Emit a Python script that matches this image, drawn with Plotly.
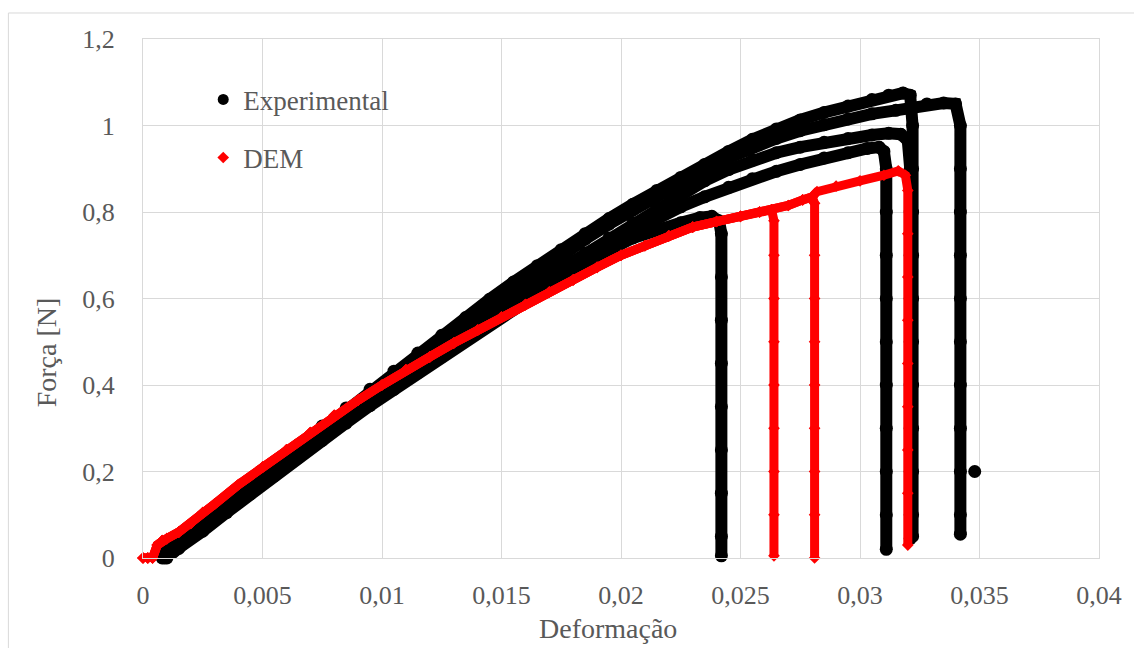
import plotly.graph_objects as go

# ---- axis ticks -------------------------------------------------------------
X_TICKS = [0, 0.005, 0.01, 0.015, 0.02, 0.025, 0.03, 0.035, 0.04]
X_TICK_LABELS = ["0", "0,005", "0,01", "0,015", "0,02", "0,025", "0,03", "0,035", "0,04"]
Y_TICKS = [0, 0.2, 0.4, 0.6, 0.8, 1.0, 1.2]
Y_TICK_LABELS = ["0", "0,2", "0,4", "0,6", "0,8", "1", "1,2"]

# ---- experimental specimens (strain, force [N]) ------------------------------
EXP_A_X = [0.0008, 0.0015, 0.0025, 0.0035, 0.0045, 0.0055, 0.0065, 0.0075, 0.0085,
           0.0095, 0.0105, 0.0115, 0.0125, 0.0135, 0.0145, 0.0155, 0.0165, 0.0175,
           0.0185, 0.0195, 0.0205, 0.0215, 0.0225, 0.0235, 0.0245, 0.0255, 0.0265,
           0.0275, 0.0285, 0.0295, 0.0305, 0.0312, 0.0318, 0.0321,
           0.0322, 0.0322, 0.0322, 0.0322, 0.0322, 0.0322, 0.0322, 0.0322, 0.0322,
           0.0322, 0.0322]
EXP_A_Y = [0.01, 0.04, 0.085, 0.13, 0.175, 0.22, 0.262, 0.305, 0.347,
           0.39, 0.432, 0.474, 0.515, 0.556, 0.598, 0.638, 0.676, 0.713,
           0.75, 0.785, 0.818, 0.85, 0.88, 0.91, 0.94, 0.968, 0.992,
           1.013, 1.03, 1.045, 1.06, 1.07, 1.075, 1.07,
           1.0, 0.9, 0.8, 0.7, 0.6, 0.5, 0.4, 0.3, 0.2, 0.1, 0.05]

EXP_B_X = [0.0009, 0.0015, 0.0025, 0.0035, 0.0045, 0.0055, 0.0065, 0.0075, 0.0085,
           0.0095, 0.0105, 0.0115, 0.0125, 0.0135, 0.0145, 0.0155, 0.0165, 0.0175,
           0.0185, 0.0195, 0.0205, 0.0215, 0.0225, 0.0235, 0.0245, 0.0255, 0.0265,
           0.0275, 0.0285, 0.0295, 0.0305, 0.0315, 0.0322, 0.0328, 0.0335, 0.0340,
           0.0342, 0.0342, 0.0342, 0.0342, 0.0342, 0.0342, 0.0342, 0.0342, 0.0342,
           0.0342, 0.0342, None, 0.0348]
EXP_B_Y = [0.005, 0.03, 0.075, 0.12, 0.165, 0.21, 0.253, 0.295, 0.338,
           0.38, 0.42, 0.462, 0.503, 0.545, 0.585, 0.625, 0.664, 0.70,
           0.737, 0.772, 0.805, 0.837, 0.868, 0.898, 0.925, 0.95, 0.97,
           0.988, 1.002, 1.015, 1.027, 1.035, 1.04, 1.05, 1.052, 1.05,
           1.0, 0.9, 0.8, 0.7, 0.6, 0.5, 0.4, 0.3, 0.2,
           0.1, 0.055, None, 0.2]

EXP_C_X = [0.0010, 0.0015, 0.0025, 0.0035, 0.0045, 0.0055, 0.0065, 0.0075, 0.0085,
           0.0095, 0.0105, 0.0115, 0.0125, 0.0135, 0.0145, 0.0155, 0.0165, 0.0175,
           0.0185, 0.0195, 0.0205, 0.0215, 0.0225, 0.0235, 0.0245, 0.0255, 0.0265,
           0.0275, 0.0285, 0.0295, 0.0305, 0.0312, 0.0317, 0.0320,
           0.0321, 0.0321, 0.0321, 0.0321, 0.0321, 0.0321, 0.0321, 0.0321, 0.0321,
           0.0321]
EXP_C_Y = [0.0, 0.025, 0.07, 0.112, 0.155, 0.198, 0.24, 0.283, 0.325,
           0.365, 0.405, 0.445, 0.485, 0.523, 0.56, 0.598, 0.635, 0.67,
           0.705, 0.74, 0.775, 0.81, 0.842, 0.872, 0.898, 0.92, 0.937,
           0.95, 0.961, 0.97, 0.978, 0.982, 0.98, 0.965,
           0.9, 0.8, 0.7, 0.6, 0.5, 0.4, 0.3, 0.2, 0.1,
           0.045]

EXP_D_X = [0.0008, 0.0015, 0.0025, 0.0035, 0.0045, 0.0055, 0.0065, 0.0075, 0.0085,
           0.0095, 0.0105, 0.0115, 0.0125, 0.0135, 0.0145, 0.0155, 0.0165, 0.0175,
           0.0185, 0.0195, 0.0205, 0.0215, 0.0225, 0.0235, 0.0245, 0.0255, 0.0265,
           0.0275, 0.0285, 0.0295, 0.0303, 0.0308, 0.0310,
           0.0311, 0.0311, 0.0311, 0.0311, 0.0311, 0.0311, 0.0311, 0.0311, 0.0311,
           0.0311]
EXP_D_Y = [0.0, 0.028, 0.068, 0.11, 0.152, 0.195, 0.237, 0.278, 0.318,
           0.358, 0.398, 0.436, 0.475, 0.512, 0.55, 0.587, 0.622, 0.655,
           0.69, 0.73, 0.755, 0.785, 0.812, 0.835, 0.857, 0.877, 0.894,
           0.91, 0.925, 0.937, 0.947, 0.95, 0.94,
           0.9, 0.8, 0.7, 0.6, 0.5, 0.4, 0.3, 0.2, 0.1,
           0.02]

EXP_E_X = [0.0009, 0.0015, 0.0025, 0.0035, 0.0045, 0.0055, 0.0065, 0.0075, 0.0085,
           0.0095, 0.0105, 0.0115, 0.0125, 0.0135, 0.0145, 0.0155, 0.0165, 0.0175,
           0.0185, 0.0195, 0.0205, 0.0215, 0.0225, 0.0233, 0.0238, 0.0241,
           0.0242, 0.0242, 0.0242, 0.0242, 0.0242, 0.0242, 0.0242, 0.0242, 0.0242]
EXP_E_Y = [0.0, 0.022, 0.062, 0.105, 0.148, 0.19, 0.232, 0.272, 0.312,
           0.352, 0.39, 0.428, 0.465, 0.503, 0.54, 0.575, 0.61, 0.645,
           0.68, 0.712, 0.74, 0.76, 0.775, 0.787, 0.79, 0.78,
           0.75, 0.65, 0.55, 0.45, 0.35, 0.25, 0.15, 0.05, 0.005]

# ---- DEM simulations: common loading path and failure drops -----------------
DEM_X = [0.0, 0.0002, 0.0004, 0.0006, 0.0008, 0.0010, 0.0015, 0.0020, 0.0025,
         0.0030, 0.0040, 0.0050, 0.0060, 0.0070, 0.0080, 0.0090, 0.0100, 0.0110,
         0.0120, 0.0130, 0.0140, 0.0150, 0.0160, 0.0170, 0.0180, 0.0190, 0.0200,
         0.0210, 0.0220, 0.0230, 0.0240, 0.0250, 0.0258, 0.0263, 0.0270, 0.0276,
         0.0280, 0.0282, 0.0290, 0.0300, 0.0310, 0.0316, 0.0319]
DEM_Y = [0.0, 0.0, 0.0, 0.03, 0.04, 0.045, 0.06, 0.08, 0.105,
         0.125, 0.17, 0.21, 0.25, 0.29, 0.33, 0.365, 0.40, 0.435,
         0.465, 0.497, 0.527, 0.557, 0.586, 0.615, 0.643, 0.672, 0.70,
         0.722, 0.745, 0.765, 0.778, 0.79, 0.80, 0.805, 0.815, 0.828,
         0.835, 0.847, 0.86, 0.872, 0.885, 0.895, 0.885]

DEM_FAIL_STRAIN = [0.0264, 0.0281, 0.0320]
DEM_DROP_Y = [
    [0.78, 0.7, 0.6, 0.5, 0.4, 0.3, 0.2, 0.1, 0.005],
    [0.82, 0.7, 0.6, 0.5, 0.4, 0.3, 0.2, 0.1, 0.0],
    [0.85, 0.75, 0.65, 0.55, 0.45, 0.35, 0.25, 0.15, 0.03],
]

TEXT = "#595959"
GRID = "#d9d9d9"
BLACK = "#000000"
RED = "#ff0000"

fig = go.Figure()

exp_series = [(EXP_A_X, EXP_A_Y), (EXP_B_X, EXP_B_Y), (EXP_C_X, EXP_C_Y),
              (EXP_D_X, EXP_D_Y), (EXP_E_X, EXP_E_Y)]
for xs, ys in exp_series:
    fig.add_trace(go.Scatter(
        x=xs, y=ys, mode="lines+markers", showlegend=False,
        line=dict(color=BLACK, width=12),
        marker=dict(symbol="circle", size=13, color=BLACK),
        cliponaxis=False, hoverinfo="skip"))

for fail_x, drop_y in zip(DEM_FAIL_STRAIN, DEM_DROP_Y):
    xs = [x for x in DEM_X if x < fail_x]
    ys = DEM_Y[:len(xs)]
    xs = xs + [fail_x] * len(drop_y)
    ys = ys + drop_y
    fig.add_trace(go.Scatter(
        x=xs, y=ys, mode="lines+markers", showlegend=False,
        line=dict(color=RED, width=9),
        marker=dict(symbol="diamond", size=9, color=RED),
        cliponaxis=False, hoverinfo="skip"))

# legend entries (marker only)
fig.add_trace(go.Scatter(x=[None], y=[None], mode="markers", name="Experimental",
                         legendgroup="exp",
                         marker=dict(symbol="circle", size=11, color=BLACK)))
fig.add_trace(go.Scatter(x=[None], y=[None], mode="markers", name="DEM",
                         legendgroup="dem",
                         marker=dict(symbol="diamond", size=9, color=RED)))

axis_common = dict(
    showgrid=True, gridcolor=GRID, gridwidth=1,
    zeroline=False, showline=True, linecolor=GRID, linewidth=1, mirror=True,
    ticks="", tickfont=dict(size=26, color=TEXT, family="Liberation Serif"),
)
fig.update_xaxes(range=[0, 0.04], tickvals=X_TICKS, ticktext=X_TICK_LABELS,
                 ticklabelstandoff=14, **axis_common)
fig.update_yaxes(range=[0, 1.2], tickvals=Y_TICKS, ticktext=Y_TICK_LABELS,
                 ticklabelstandoff=22, **axis_common)

fig.add_annotation(text="Deformação", xref="paper", yref="paper",
                   x=0.486, y=-0.135, xanchor="center", yanchor="middle",
                   showarrow=False, font=dict(size=28, color=TEXT, family="Liberation Serif"))
fig.add_annotation(text="Força [N]", xref="paper", yref="paper",
                   x=-0.100, y=0.397, xanchor="center", yanchor="middle", textangle=-90,
                   showarrow=False, font=dict(size=28, color=TEXT, family="Liberation Serif"))

# chart-area border
fig.add_shape(type="rect", xref="paper", yref="paper",
              x0=-0.1408, y0=-0.19, x1=1.045, y1=1.0501,
              line=dict(color=GRID, width=1), fillcolor="rgba(0,0,0,0)", layer="below")

fig.update_layout(
    width=1134, height=648,
    margin=dict(l=143, r=32, t=39, b=90),
    paper_bgcolor="white", plot_bgcolor="white",
    font=dict(family="Liberation Serif", color=TEXT),
    legend=dict(x=0.063, y=0.93, xanchor="left", yanchor="top",
                bgcolor="rgba(0,0,0,0)", tracegroupgap=20,
                font=dict(size=27, color=TEXT, family="Liberation Serif")),
)

fig.write_html("out.html")
